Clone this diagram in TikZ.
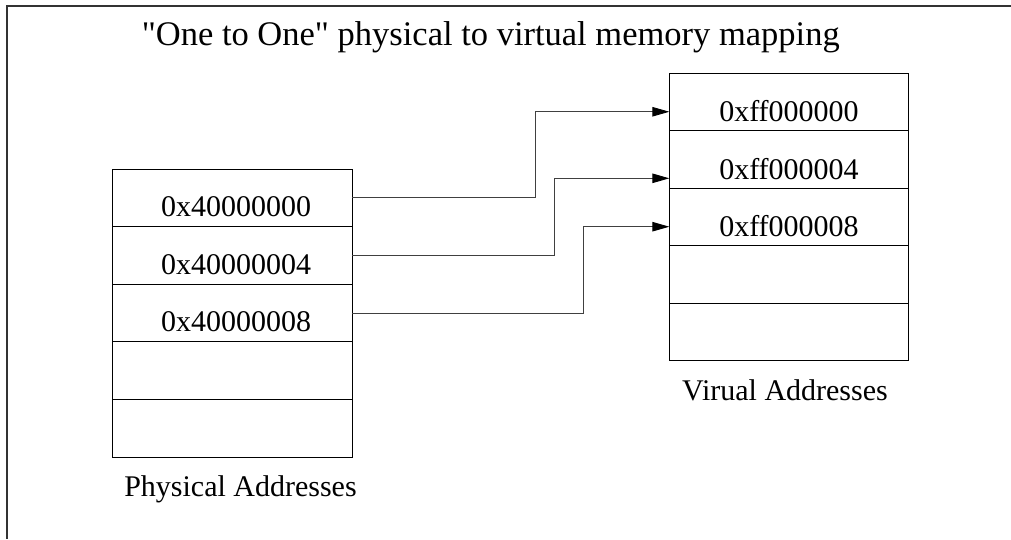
\documentclass[tikz,border=0pt]{standalone}
\usepackage{fontspec}
\setmainfont{Liberation Serif}[Ligatures=TeXOff]
\usetikzlibrary{arrows.meta}
\begin{document}
\begin{tikzpicture}[x=1pt,y=-1pt,
  cell/.style={draw=black, line width=0.9pt, minimum width=239.5pt, minimum height=57.6pt, inner sep=0pt, outer sep=0pt, anchor=north west},
  vcell/.style={cell, minimum height=57.5pt},
  addr/.style={anchor=base, inner sep=0pt, font=\fontsize{30}{36}\selectfont},
  ttl/.style={anchor=base, inner sep=0pt, font=\fontsize{34.5}{40}\selectfont},
  conn/.style={draw=black!75, line width=0.9pt, -{Triangle[length=17pt,width=9.5pt,color=black]}},
  frame/.style={draw=black!80, line width=1.5pt}
]
\useasboundingbox (0,0) rectangle (1011,539);
\draw[frame] (1011,6) -- (7,6) -- (7,539);

\node[ttl] (title) at (490.8,45) {"One to One" physical to virtual memory mapping};

% physical memory
\node[cell] (p1) at (112.7,169.0) {};
\node[cell] (p2) at (112.7,226.6) {};
\node[cell] (p3) at (112.7,284.2) {};
\node[cell] (p4) at (112.7,341.8) {};
\node[cell] (p5) at (112.7,399.4) {};
\node[addr] (pa1) at (236,216.7) {0x40000000};
\node[addr] (pa2) at (236,274.3) {0x40000004};
\node[addr] (pa3) at (236,331.7) {0x40000008};
\node[addr] (plabel) at (240.5,496) {Physical Addresses};

% virtual memory
\node[vcell] (v1) at (669.3,73.3) {};
\node[vcell] (v2) at (669.3,130.8) {};
\node[vcell] (v3) at (669.3,188.3) {};
\node[vcell] (v4) at (669.3,245.8) {};
\node[vcell] (v5) at (669.3,303.3) {};
\node[addr] (va1) at (789,121.7) {0xff000000};
\node[addr] (va2) at (789,179.0) {0xff000004};
\node[addr] (va3) at (789,236.0) {0xff000008};
\node[addr] (vlabel) at (785,400) {Virual Addresses};

% mappings
\draw[conn] (p1.east) -- ++(183,0) |- ([yshift=-9.7pt]v1.west);
\draw[conn] (p2.east) -- ++(202,0) |- ([yshift=-18.75pt]v2.west);
\draw[conn] (p3.east) -- ++(231,0) |- ([yshift=-9.65pt]v3.west);
\end{tikzpicture}
\end{document}
